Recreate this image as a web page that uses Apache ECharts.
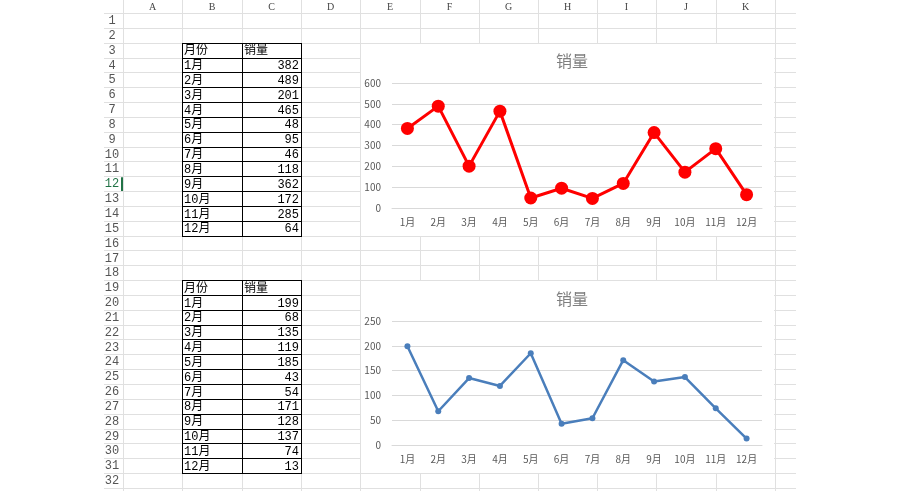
<!DOCTYPE html>
<html>
<head>
<meta charset="utf-8">
<script src="https://cdn.jsdelivr.net/npm/echarts@6/dist/echarts.min.js"></script>
<style>
  html, body { margin: 0; padding: 0; background: #fff; }
  #main { width: 900px; height: 491px; }
</style>
</head>
<body>
<div id="main"></div>
<script>
// 表格数据
var months = ['1月', '2月', '3月', '4月', '5月', '6月', '7月', '8月', '9月', '10月', '11月', '12月'];
var sales1 = [382, 489, 201, 465, 48, 95, 46, 118, 362, 172, 285, 64];
var sales2 = [199, 68, 135, 119, 185, 43, 54, 171, 128, 137, 74, 13];
var headers = ['月份', '销量'];
var colLetters = ['A', 'B', 'C', 'D', 'E', 'F', 'G', 'H', 'I', 'J', 'K'];

// 工作表网格
var colEdges = [104, 123, 182, 242, 301, 360, 420, 479, 538, 597, 656, 716, 775, 796];
var headH = 13, rowH = 14.84, rowCount = 32;
function rowTop(r) { return headH + (r - 1) * rowH; }

var myChart = echarts.init(document.getElementById('main'));
var g = [];

// 网格线
for (var r = 1; r <= rowCount + 1; r++) {
    var y = Math.round(rowTop(r)) + 0.5;
    g.push({ type: 'line', z: 0, shape: { x1: 104, y1: y, x2: 796, y2: y }, style: { stroke: '#e0e0e0', lineWidth: 1 } });
}
for (var c = 1; c < colEdges.length - 1; c++) {
    var x = colEdges[c] + 0.5;
    g.push({ type: 'line', z: 0, shape: { x1: x, y1: 0, x2: x, y2: 491 }, style: { stroke: '#e0e0e0', lineWidth: 1 } });
}
// 列标
for (var i = 0; i < colLetters.length; i++) {
    g.push({ type: 'text', z: 1, style: {
        x: (colEdges[i + 1] + colEdges[i + 2]) / 2, y: 7, text: colLetters[i],
        fill: '#444', font: '10px "Liberation Serif"', textAlign: 'center', textVerticalAlign: 'middle'
    } });
}
// 行号
for (var r = 1; r <= rowCount; r++) {
    g.push({ type: 'text', z: 1, style: {
        x: 112, y: rowTop(r) + rowH / 2 + 0.5, text: String(r),
        fill: r === 12 ? '#217346' : '#555', font: '12px "Liberation Mono"', textAlign: 'center', textVerticalAlign: 'middle'
    } });
}
g.push({ type: 'rect', z: 1, shape: { x: 121, y: rowTop(12) + 1, width: 2, height: rowH - 1 }, style: { fill: '#217346' } });

// 两个数据表
function addTable(startRow, values) {
    var top = rowTop(startRow), bottom = rowTop(startRow + values.length + 1);
    var rows = [headers].concat(months.map(function (m, k) { return [m, values[k]]; }));
    rows.forEach(function (row, k) {
        var cy = rowTop(startRow + k) + rowH / 2 + 1;
        g.push({ type: 'text', z: 3, style: { x: 184, y: cy, text: row[0], fill: '#000',
            font: '12px "Liberation Mono", "Noto Sans CJK SC"', textVerticalAlign: 'middle' } });
        g.push({ type: 'text', z: 3, style: { x: k === 0 ? 244 : 299, y: cy, text: String(row[1]), fill: '#000',
            font: '12px "Liberation Mono", "Noto Sans CJK SC"', textAlign: k === 0 ? 'left' : 'right', textVerticalAlign: 'middle' } });
    });
    for (var k = 0; k <= rows.length; k++) {
        var y = Math.round(rowTop(startRow + k)) + 0.5;
        g.push({ type: 'line', z: 2, shape: { x1: 182, y1: y, x2: 302, y2: y }, style: { stroke: '#000', lineWidth: 1 } });
    }
    [182, 242, 301].forEach(function (x) {
        g.push({ type: 'line', z: 2, shape: { x1: x + 0.5, y1: Math.round(top), x2: x + 0.5, y2: Math.round(bottom) + 1 }, style: { stroke: '#000', lineWidth: 1 } });
    });
}
addTable(3, sales1);
addTable(19, sales2);

// 图表底色
g.push({ type: 'rect', z: 1, shape: { x: 361, y: Math.round(rowTop(3)) + 1, width: 413, height: Math.round(rowTop(16)) - Math.round(rowTop(3)) - 1 }, style: { fill: '#fff' } });
g.push({ type: 'rect', z: 1, shape: { x: 361, y: Math.round(rowTop(19)) + 1, width: 413, height: Math.round(rowTop(32)) - Math.round(rowTop(19)) - 1 }, style: { fill: '#fff' } });

var axisLabel = { color: '#595959', fontSize: 10, fontFamily: 'Noto Sans CJK SC' };
var option = {
    animation: false,
    graphic: { elements: g },
    title: [
        { text: '销量', left: 567, top: 48, textAlign: 'center',
          textStyle: { color: '#7f7f7f', fontSize: 16, fontWeight: 'normal', fontFamily: 'Noto Sans CJK SC' } },
        { text: '销量', left: 567, top: 286, textAlign: 'center',
          textStyle: { color: '#7f7f7f', fontSize: 16, fontWeight: 'normal', fontFamily: 'Noto Sans CJK SC' } }
    ],
    grid: [
        { left: 392, top: 83, width: 370, height: 125 },
        { left: 392, top: 321, width: 370, height: 124 }
    ],
    xAxis: [0, 1].map(function (i) {
        return {
            type: 'category', gridIndex: i, data: months, z: 3,
            axisLine: { lineStyle: { color: '#d9d9d9' } },
            axisTick: { show: false },
            axisLabel: Object.assign({ margin: 9 }, axisLabel)
        };
    }),
    yAxis: [
        { type: 'value', gridIndex: 0, min: 0, max: 600, interval: 100, z: 3 },
        { type: 'value', gridIndex: 1, min: 0, max: 250, interval: 50, z: 3 }
    ].map(function (a) {
        return Object.assign(a, {
            axisLine: { show: false },
            axisTick: { show: false },
            splitLine: { lineStyle: { color: '#d9d9d9' } },
            axisLabel: Object.assign({ margin: 11 }, axisLabel)
        });
    }),
    series: [
        {
            type: 'line', xAxisIndex: 0, yAxisIndex: 0, data: sales1, z: 4,
            symbol: 'circle', symbolSize: 13,
            lineStyle: { color: '#ff0000', width: 3 },
            itemStyle: { color: '#ff0000' }
        },
        {
            type: 'line', xAxisIndex: 1, yAxisIndex: 1, data: sales2, z: 4,
            symbol: 'circle', symbolSize: 6,
            lineStyle: { color: '#4a7ebb', width: 2.5 },
            itemStyle: { color: '#4a7ebb' }
        }
    ]
};
myChart.setOption(option);
</script>
</body>
</html>
